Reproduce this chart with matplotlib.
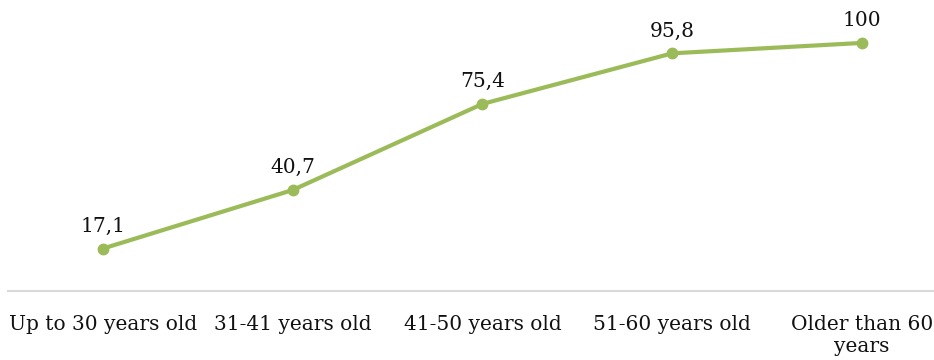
import matplotlib.pyplot as plt

age_groups = ['Up to 30 years old', '31-41 years old', '41-50 years old',
              '51-60 years old', 'Older than 60\nyears']
values = [17.1, 40.7, 75.4, 95.8, 100]

plt.rcParams['font.family'] = ['DejaVu Serif']

fig = plt.figure(figsize=(9.34, 3.6), dpi=100)
ax = fig.add_axes([8 / 934, 69 / 360, 1 - 8 / 934, 1 - 69 / 360])

x = list(range(len(age_groups)))
ax.plot(x, values, color='#9BBB59', linewidth=3, marker='o', markersize=7.5,
        solid_capstyle='round', clip_on=False)

# value labels with decimal comma
for xi, v in zip(x, values):
    label = f'{v:g}'.replace('.', ',')
    ax.annotate(label, (xi, v), xytext=(0, 12), textcoords='offset points',
                ha='center', va='baseline', fontsize=14.5, color='#111111')

ax.set_xlim(-0.5, 4.38)
ax.set_ylim(0, 117.3)
ax.set_xticks(x)
ax.set_xticklabels(age_groups, fontsize=14.5, color='#111111', linespacing=1.2)
ax.tick_params(axis='x', length=0, pad=17)
ax.set_yticks([])

for side in ['left', 'right', 'top']:
    ax.spines[side].set_visible(False)
ax.spines['bottom'].set_color('#D9D9D9')
ax.spines['bottom'].set_linewidth(1.5)

plt.savefig('out.png', dpi=100)
